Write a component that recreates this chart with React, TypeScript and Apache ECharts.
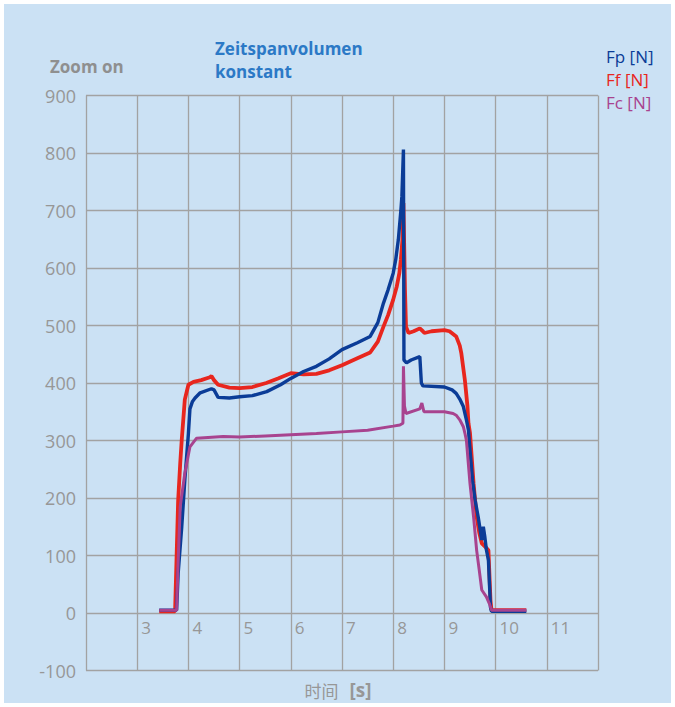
import React, { useEffect, useRef } from "react";
import * as echarts from "echarts";

const seriesNames = ["Fp [N]", "Ff [N]", "Fc [N]"];
const seriesColors = ["#0b3c97", "#e8261e", "#a8438f"];

// [time s, force N]
const fpData: [number, number][] = [
  [3.43, 5], [3.77, 5], [3.8, 69], [3.87, 150], [3.93, 231], [4.0, 312], [4.03, 355], [4.08, 368],
  [4.13, 374], [4.23, 383], [4.45, 390], [4.5, 388], [4.58, 375], [4.8, 374], [5.0, 376],
  [5.25, 378], [5.53, 385], [5.8, 397], [6.0, 408], [6.25, 420], [6.5, 429], [6.75, 442],
  [7.0, 458], [7.3, 470], [7.55, 481], [7.7, 505], [7.81, 539], [7.9, 562], [8.0, 591],
  [8.05, 615], [8.1, 649], [8.15, 700], [8.17, 725], [8.2, 806], [8.21, 440], [8.26, 435],
  [8.35, 440], [8.52, 446], [8.55, 400], [8.58, 395], [9.0, 393], [9.15, 388], [9.23, 382],
  [9.3, 372], [9.37, 359], [9.43, 336], [9.47, 318], [9.5, 283], [9.55, 230], [9.6, 196],
  [9.66, 167], [9.73, 127], [9.76, 150], [9.79, 132], [9.82, 110], [9.86, 92], [9.9, 10],
  [9.92, 3], [10.6, 3],
];

const ffData: [number, number][] = [
  [3.43, 3], [3.74, 3], [3.77, 100], [3.8, 196], [3.84, 260], [3.87, 301], [3.93, 371],
  [4.0, 397], [4.1, 402], [4.25, 405], [4.42, 410], [4.45, 412], [4.5, 405], [4.58, 397],
  [4.8, 392], [5.0, 391], [5.25, 393], [5.52, 400], [5.75, 408], [6.0, 417], [6.25, 415],
  [6.5, 416], [6.75, 422], [7.0, 431], [7.3, 443], [7.55, 453], [7.7, 472], [7.81, 498],
  [7.9, 518], [8.0, 545], [8.07, 568], [8.12, 591], [8.15, 615], [8.18, 649], [8.2, 713],
  [8.23, 562], [8.25, 498], [8.3, 487], [8.4, 490], [8.52, 495], [8.58, 490], [8.61, 487],
  [8.75, 490], [9.0, 492], [9.1, 490], [9.23, 481], [9.3, 465], [9.33, 452], [9.4, 405],
  [9.45, 360], [9.47, 330], [9.5, 313], [9.57, 225], [9.63, 167], [9.68, 140], [9.73, 121],
  [9.8, 115], [9.86, 109], [9.9, 22], [9.92, 5], [10.6, 5],
];

const fcData: [number, number][] = [
  [3.43, 5], [3.77, 5], [3.8, 90], [3.84, 185], [3.93, 243], [4.03, 289], [4.16, 304],
  [4.68, 307], [5.0, 306], [5.5, 308], [6.0, 310], [6.5, 312], [7.0, 315], [7.5, 318],
  [8.0, 325], [8.13, 327], [8.19, 330], [8.2, 429], [8.22, 360], [8.25, 347], [8.52, 355],
  [8.56, 365], [8.6, 350], [9.0, 350], [9.17, 347], [9.23, 344], [9.3, 336], [9.37, 324],
  [9.4, 313], [9.43, 300], [9.5, 225], [9.57, 167], [9.63, 109], [9.68, 75], [9.73, 40],
  [9.82, 28], [9.88, 16], [9.92, 5], [10.6, 5],
];

const xRange = [2, 12];
const yRange = [-100, 900];
const tickStep = [1, 100];

const titleLeft = "Zoom on";
const titleMain = "Zeitspanvolumen\nkonstant";
const xName = "时间";
const xUnit = "[s]";

const FONT = "'Open Sans', 'Noto Sans', sans-serif";
const GRAY = "#979797";
const GRID = "#a2a2a2";

export default function App() {
  const ref = useRef<HTMLDivElement>(null);

  useEffect(() => {
    document.body.style.margin = "0";
    if (!ref.current) return;
    const chart = echarts.init(ref.current, undefined, { renderer: "svg" });
    const option: any = {
      animation: false,
      backgroundColor: "transparent",
      title: [
        {
          text: titleLeft,
          left: 50,
          top: 58,
          padding: 0,
          textStyle: { fontFamily: FONT, fontSize: 17, fontWeight: "bold", color: "#8f8f8f" },
        },
        {
          text: titleMain,
          left: 215,
          top: 37,
          padding: 0,
          textStyle: {
            fontFamily: FONT,
            fontSize: 17,
            fontWeight: "bold",
            color: "#2c79c6",
            lineHeight: 23,
          },
        },
      ],
      legend: {
        orient: "vertical",
        left: 601,
        top: 48,
        padding: 0,
        icon: "none",
        itemWidth: 0,
        itemHeight: 16,
        itemGap: 6,
        selectedMode: false,
        textStyle: { fontFamily: FONT, fontSize: 17 },
        data: seriesNames.map((n, i) => ({ name: n, textStyle: { color: seriesColors[i] } })),
      },
      graphic: [
        {
          type: "text",
          x: 338,
          y: 690,
          style: {
            text: `{a|${xName}}{b|${xUnit}}`,
            align: "center",
            verticalAlign: "middle",
            rich: {
              a: {
                fontFamily: "'Noto Sans CJK SC', sans-serif",
                fontSize: 17,
                fill: GRAY,
                padding: [0, 11, 0, 0],
              },
              b: { fontFamily: FONT, fontSize: 19, fontWeight: "bold", fill: GRAY },
            },
          },
        },
      ],
      grid: {
        left: 86,
        right: 77,
        top: 95.5,
        bottom: 36.5,
        containLabel: false,
        outerBoundsMode: "none",
      },
      xAxis: {
        type: "value",
        min: xRange[0],
        max: xRange[1],
        interval: tickStep[0],
        axisLine: { show: false, onZero: false },
        axisTick: { show: false },
        axisLabel: {
          showMinLabel: false,
          showMaxLabel: false,
          align: "left",
          padding: [0, 0, 0, 4],
          margin: -52,
          fontFamily: FONT,
          fontSize: 17,
          color: GRAY,
        },
        splitLine: { show: true, lineStyle: { color: GRID, width: 1.3 } },
      },
      yAxis: {
        type: "value",
        min: yRange[0],
        max: yRange[1],
        interval: tickStep[1],
        axisLine: { show: false },
        axisTick: { show: false },
        axisLabel: { margin: 10, fontFamily: FONT, fontSize: 18, color: GRAY },
        splitLine: { show: true, lineStyle: { color: GRID, width: 1.3 } },
      },
      series: [
        {
          name: seriesNames[1],
          type: "line",
          data: ffData,
          showSymbol: false,
          lineStyle: { color: seriesColors[1], width: 3.8 },
          itemStyle: { color: seriesColors[1] },
          z: 2,
        },
        {
          name: seriesNames[0],
          type: "line",
          data: fpData,
          showSymbol: false,
          lineStyle: { color: seriesColors[0], width: 3.4 },
          itemStyle: { color: seriesColors[0] },
          z: 3,
        },
        {
          name: seriesNames[2],
          type: "line",
          data: fcData,
          showSymbol: false,
          lineStyle: { color: seriesColors[2], width: 3 },
          itemStyle: { color: seriesColors[2] },
          z: 4,
        },
      ],
    };
    chart.setOption(option);
    return () => chart.dispose();
  }, []);

  return (
    <div style={{ position: "fixed", left: 0, top: 0, width: 675, height: 707, background: "#ffffff" }}>
      <div
        style={{ position: "absolute", left: 4, top: 4, width: 667, height: 699, background: "#cbe1f4" }}
      />
      <div ref={ref} style={{ position: "absolute", left: 0, top: 0, width: 675, height: 707 }} />
    </div>
  );
}
